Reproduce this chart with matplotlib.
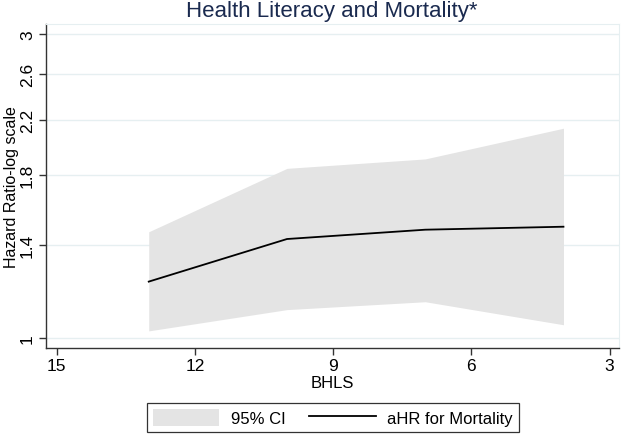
import matplotlib
matplotlib.use("Agg")
import matplotlib.pyplot as plt
from matplotlib.ticker import FixedLocator, FixedFormatter, NullLocator

plt.rcParams["font.family"] = ["Liberation Sans", "DejaVu Sans"]

# BHLS score and adjusted hazard ratios
bhls = [13, 10, 7, 4]
ahr = [1.226, 1.43, 1.479, 1.495]
ci_lo = [1.026, 1.108, 1.14, 1.049]
ci_hi = [1.468, 1.846, 1.91, 2.134]

yticks = [1, 1.4, 1.8, 2.2, 2.6, 3]
ytick_labels = ["1", "1.4", "1.8", "2.2", "2.6", "3"]
xticks = [15, 12, 9, 6, 3]

GRID = "#e6eff1"

fig = plt.figure(figsize=(6.22, 4.35), dpi=100)
ax = fig.add_axes([0.0732, 0.1977, 0.9216, 0.7448])

ci = ax.fill_between(bhls, ci_lo, ci_hi, color="#e4e4e4", linewidth=0, label="95% CI")
line, = ax.plot(bhls, ahr, color="black", lw=1.3, label="aHR for Mortality")

ax.set_yscale("log")
ax.set_ylim(0.9645, 3.11)
ax.set_xlim(15.24, 2.8)
ax.yaxis.set_major_locator(FixedLocator(yticks))
ax.yaxis.set_major_formatter(FixedFormatter(ytick_labels))
ax.yaxis.set_minor_locator(NullLocator())
ax.set_xticks(xticks)
ax.set_xticklabels([str(t) for t in xticks])

ax.grid(axis="y", color=GRID, lw=1.0)
ax.set_axisbelow(True)
for s in ["top", "right"]:
    ax.spines[s].set_color(GRID)
for s in ["left", "bottom"]:
    ax.spines[s].set_color("#333333")
    ax.spines[s].set_linewidth(1.0)

ax.tick_params(axis="both", direction="out", length=5, width=1, color="#333333",
               labelsize=12.5, pad=2.5)
for lab in ax.get_yticklabels():
    lab.set_rotation(90)
    lab.set_va("center")

ax.set_ylabel("Hazard Ratio-log scale", fontsize=11.5, labelpad=1)
ax.set_xlabel("BHLS", fontsize=12, labelpad=1)
ax.set_title("Health Literacy and Mortality*", fontsize=16, color="#1a2a4f", pad=6)

leg = fig.legend(handles=[ci, line], loc="center", bbox_to_anchor=(0.535, 0.037), ncol=2,
                 fontsize=12, frameon=True, fancybox=False, edgecolor="black",
                 handlelength=4.0, handleheight=1.2, handletextpad=0.7, columnspacing=1.4,
                 borderpad=0.35)
leg.get_frame().set_linewidth(0.9)

fig.savefig("out.png", dpi=100)
